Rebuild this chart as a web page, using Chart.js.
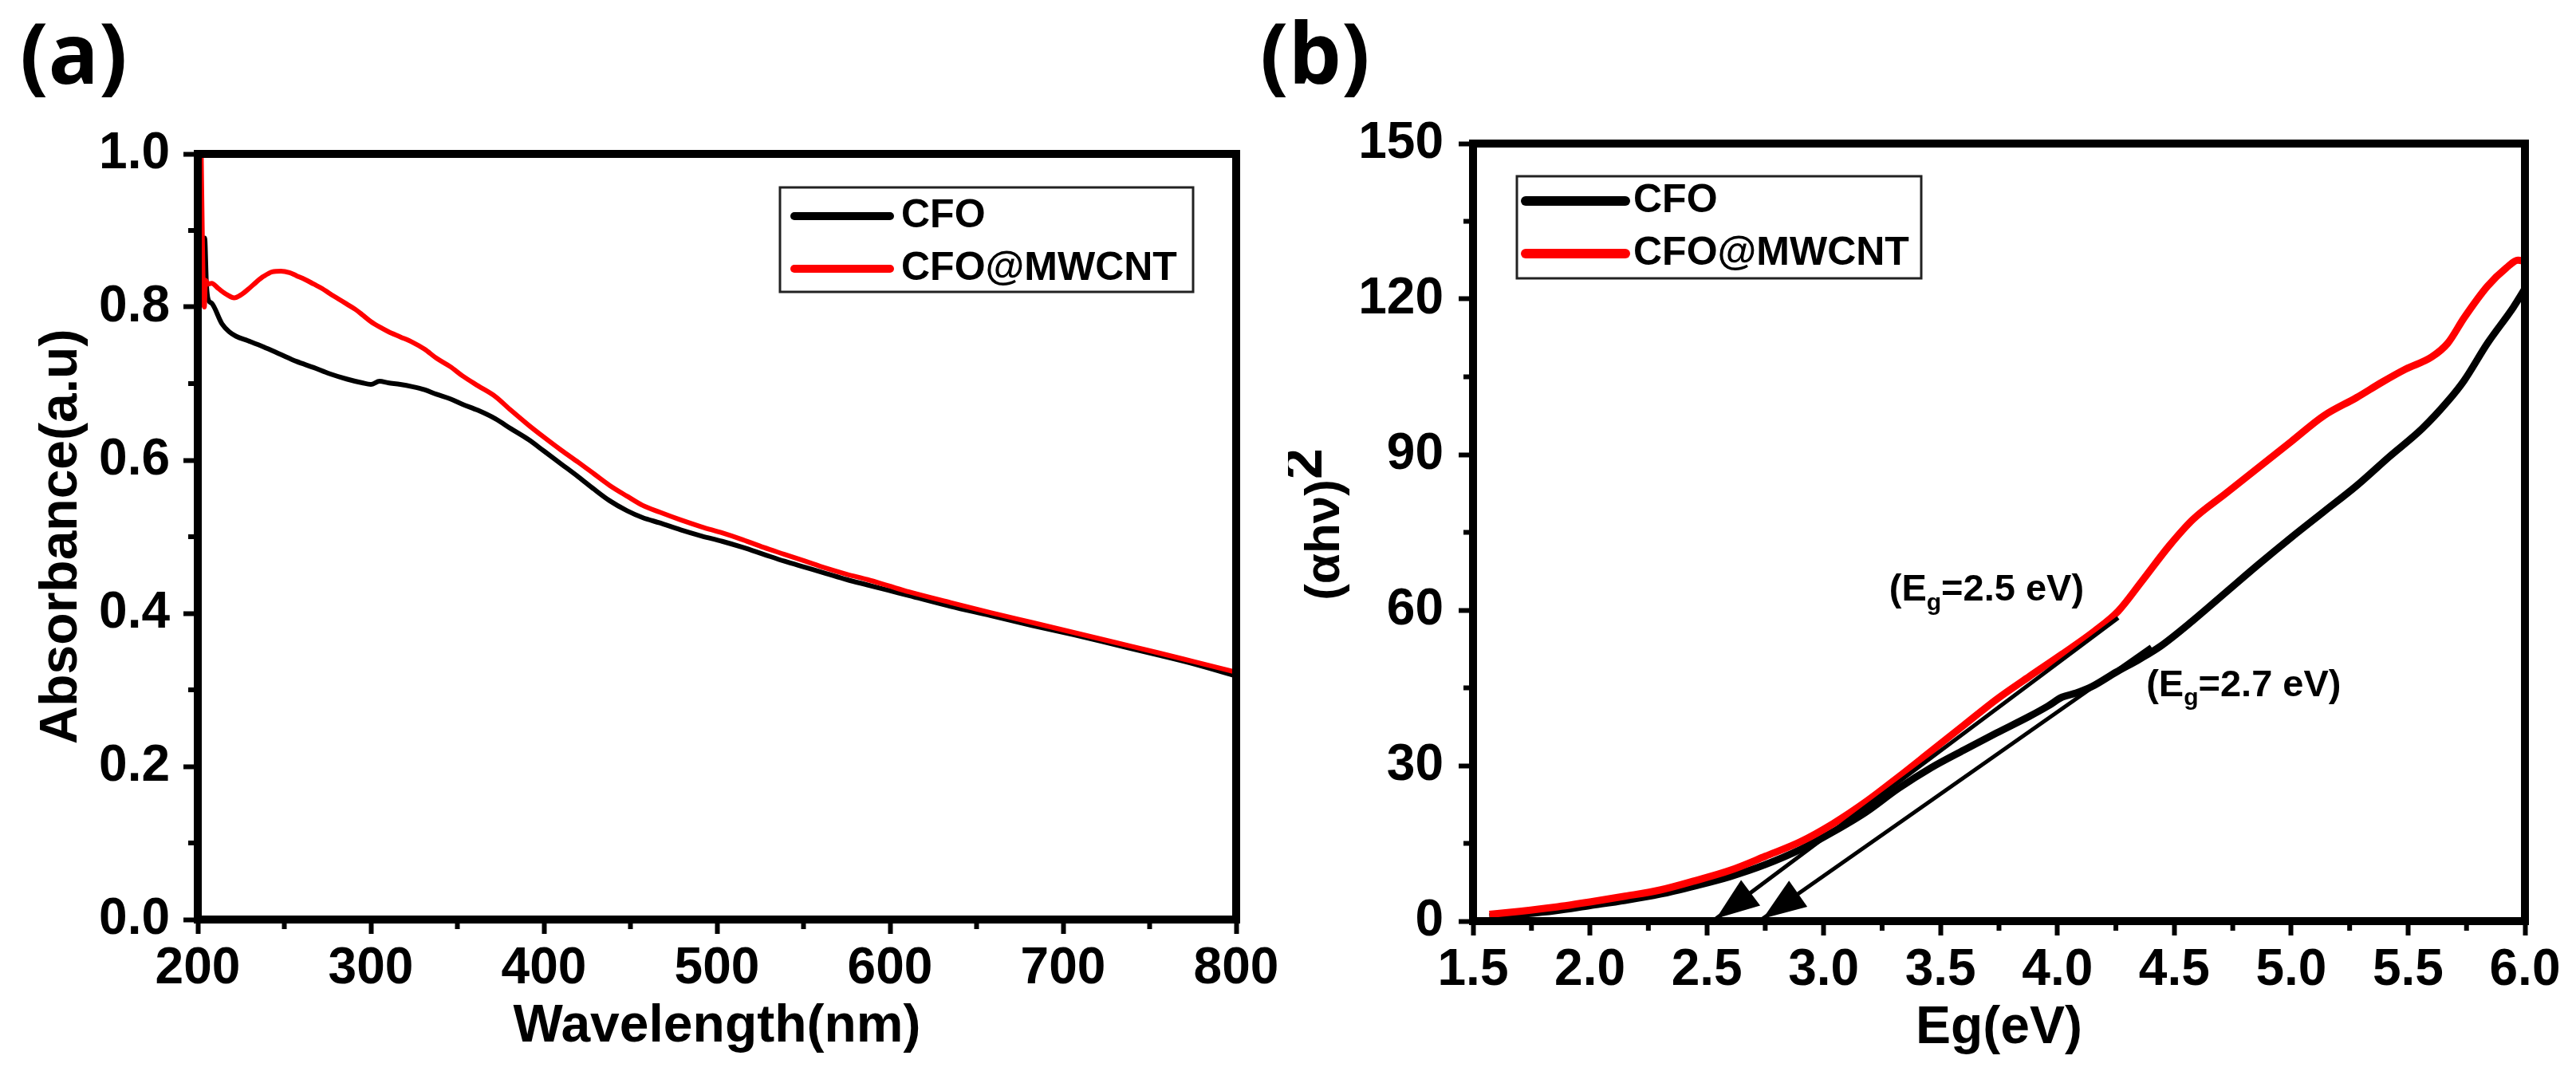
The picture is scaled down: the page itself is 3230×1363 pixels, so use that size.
<!DOCTYPE html>
<html lang="en">
<head>
<meta charset="UTF-8">
<title>CFO / CFO@MWCNT absorbance and Tauc plot</title>
<script src="https://cdn.jsdelivr.net/npm/chart.js"></script>
<style>
  body { margin: 0; background: #fff; width: 3230px; height: 1363px; position: relative; overflow: hidden; }
  canvas { position: absolute; top: 0; }
  .panel { position: absolute; font-family: "Open Sans", sans-serif; font-weight: 700; font-size: 105px; line-height: 105px; color: #000; }
</style>
</head>
<body>
<div class="panel" style="left:25px; top:12px">(a)</div>
<div class="panel" style="left:1580px; top:12px">(b)</div>
<canvas id="chartA" width="1615" height="1363" style="left:0"></canvas>
<canvas id="chartB" width="1615" height="1363" style="left:1615px"></canvas>
<script>
// ---- panel (a): absorbance vs wavelength ----
const wlCFO = [202, 203, 204, 205, 206, 208, 214, 218, 222, 229, 238, 248, 257, 267, 276, 286, 295, 300, 305, 310, 317,
  324, 331, 338, 346, 353, 362, 372, 381, 391, 400, 410, 420, 429, 438, 448, 457, 467, 479, 491, 503,
  515, 527, 539, 551, 563, 575, 587, 599, 611, 635, 658, 682, 706, 730, 754, 777, 800];
const absCFO = [0.80, 0.82, 0.89, 0.83, 0.81, 0.805, 0.778, 0.768, 0.762, 0.756, 0.748, 0.738, 0.729, 0.721, 0.713, 0.706, 0.701, 0.699, 0.703, 0.701, 0.699,
  0.696, 0.692, 0.686, 0.680, 0.673, 0.665, 0.654, 0.641, 0.627, 0.612, 0.595, 0.578, 0.562, 0.547, 0.534, 0.525, 0.518, 0.509, 0.501, 0.494,
  0.486, 0.477, 0.468, 0.460, 0.452, 0.444, 0.437, 0.430, 0.423, 0.409, 0.397, 0.384, 0.372, 0.359, 0.346, 0.333, 0.318];
const wlMW = [202, 202.6, 203.2, 203.8, 204.5, 206, 208, 212, 217, 221, 225, 229, 234, 238, 243, 248, 253, 257, 262, 267,
  272, 276, 281, 286, 291, 295, 300, 305, 310, 317, 324, 331, 338, 346, 353, 362, 372, 381, 391, 400,
  410, 420, 429, 438, 448, 457, 467, 479, 491, 503, 515, 527, 539, 551, 563, 575, 587, 599, 611, 635,
  658, 682, 706, 730, 754, 777, 800];
const absMW = [1.0, 0.90, 0.82, 0.80, 0.835, 0.83, 0.831, 0.824, 0.816, 0.812, 0.816, 0.823, 0.833, 0.840, 0.846, 0.847, 0.845, 0.841, 0.836, 0.830,
  0.824, 0.818, 0.811, 0.804, 0.797, 0.790, 0.781, 0.774, 0.768, 0.761, 0.754, 0.745, 0.733, 0.722, 0.710, 0.697, 0.683, 0.665, 0.646, 0.630,
  0.613, 0.597, 0.582, 0.567, 0.553, 0.541, 0.532, 0.522, 0.513, 0.505, 0.496, 0.486, 0.477, 0.468, 0.459, 0.451, 0.444, 0.436, 0.428, 0.414,
  0.401, 0.388, 0.375, 0.362, 0.349, 0.336, 0.323];
const ticksWl = [200, 300, 400, 500, 600, 700, 800];
const minorWl = [250, 350, 450, 550, 650, 750];
const ticksAbs = [0, 0.2, 0.4, 0.6, 0.8, 1.0];
const minorAbs = [0.1, 0.3, 0.5, 0.7, 0.9];

// ---- panel (b): Tauc plot ----
const egCFO = [1.57, 1.7, 1.85, 2.0, 2.15, 2.3, 2.45, 2.6, 2.75, 2.9, 3.04, 3.18, 3.32, 3.46, 3.6, 3.74, 3.88, 3.96, 4.02, 4.08,
  4.15, 4.25, 4.35, 4.44, 4.58, 4.72, 4.86, 5.0, 5.14, 5.28, 5.42, 5.56, 5.67, 5.74, 5.84, 5.95, 6.0];
const tcCFO = [0.8, 1.3, 2.0, 3.0, 4.0, 5.2, 6.8, 8.6, 10.9, 13.8, 17.2, 21.0, 25.6, 29.6, 33.0, 36.3, 39.5, 41.5, 43.2, 44.0,
  45.3, 48.0, 50.5, 53.0, 58.0, 63.4, 68.8, 74.0, 79.0, 84.0, 89.6, 95.0, 100.3, 104.3, 111.5, 118.4, 122.0];
const egMW = [1.57, 1.7, 1.85, 2.0, 2.15, 2.3, 2.45, 2.6, 2.75, 2.9, 3.04, 3.18, 3.32, 3.46, 3.6, 3.74, 3.88, 4.02, 4.16, 4.26,
  4.36, 4.48, 4.58, 4.72, 4.86, 5.0, 5.14, 5.28, 5.39, 5.49, 5.6, 5.67, 5.74, 5.84, 5.92, 5.97, 6.0];
const tcMW = [1.3, 1.9, 2.7, 3.7, 4.8, 6.0, 7.8, 9.8, 12.5, 15.3, 18.8, 23.0, 27.8, 32.8, 37.8, 42.8, 47.2, 51.5, 56.0, 59.8,
  65.5, 72.5, 77.5, 82.5, 87.5, 92.5, 97.5, 101.0, 104.0, 106.5, 108.8, 111.5, 116.4, 122.5, 126.0, 127.5, 127.3];
// tangent lines (arrow tip first)
const tanEg25 = [2.54, 4.26];
const tanTc25 = [0.5, 58.5];
const tanEg27 = [2.74, 4.4];
const tanTc27 = [0.5, 53.0];
const ticksEg = [1.5, 2.0, 2.5, 3.0, 3.5, 4.0, 4.5, 5.0, 5.5, 6.0];
const minorEg = [1.75, 2.25, 2.75, 3.25, 3.75, 4.25, 4.75, 5.25, 5.75];
const ticksTc = [0, 30, 60, 90, 120, 150];
const minorTc = [15, 45, 75, 105, 135];

const FONT = '"Liberation Sans", Arial, sans-serif';

function pts(xs, ys) {
  return xs.map((v, i) => ({ x: v, y: ys[i] }));
}

// frame, minor ticks, legend, arrowheads and notes
const decor = {
  id: 'decor',
  afterDatasetsDraw(chart, args, opts) {
    const { ctx, chartArea: a } = chart;
    const x = chart.scales.x, y = chart.scales.y;
    ctx.save();

    chart.data.datasets.forEach(ds => {
      if (!ds.arrow) return;
      const x0 = x.getPixelForValue(ds.data[0].x), y0 = y.getPixelForValue(ds.data[0].y);
      const x1 = x.getPixelForValue(ds.data[1].x), y1 = y.getPixelForValue(ds.data[1].y);
      const ang = Math.atan2(y0 - y1, x0 - x1);
      const L = 54, W = 20;
      const c = Math.cos(ang), s = Math.sin(ang);
      ctx.beginPath();
      ctx.moveTo(x0, y0);
      ctx.lineTo(x0 - L * c + W * s, y0 - L * s - W * c);
      ctx.lineTo(x0 - L * c - W * s, y0 - L * s + W * c);
      ctx.closePath();
      ctx.fillStyle = '#000';
      ctx.fill();
    });

    ctx.strokeStyle = '#000';
    ctx.lineWidth = 10;
    ctx.strokeRect(a.left, a.top, a.right - a.left, a.bottom - a.top);

    ctx.lineWidth = 6;
    opts.minorX.forEach(v => {
      const px = x.getPixelForValue(v);
      ctx.beginPath(); ctx.moveTo(px, a.bottom); ctx.lineTo(px, a.bottom + 12); ctx.stroke();
    });
    opts.minorY.forEach(v => {
      const py = y.getPixelForValue(v);
      ctx.beginPath(); ctx.moveTo(a.left, py); ctx.lineTo(a.left - 12, py); ctx.stroke();
    });

    const lg = opts.legend;
    const bx = a.left + lg.dx, by = a.top + lg.dy;
    ctx.lineWidth = 3;
    ctx.strokeStyle = '#222';
    ctx.strokeRect(bx, by, lg.w, lg.h);
    ctx.font = 'bold ' + lg.size + 'px ' + FONT;
    ctx.textBaseline = 'middle';
    ctx.textAlign = 'left';
    chart.data.datasets.filter(d => d.inLegend).forEach((d, i) => {
      const ry = by + lg.row0 + i * lg.gap;
      ctx.strokeStyle = d.borderColor;
      ctx.lineWidth = lg.lw;
      ctx.lineCap = 'round';
      ctx.beginPath(); ctx.moveTo(bx + lg.lx0, ry); ctx.lineTo(bx + lg.lx1, ry); ctx.stroke();
      ctx.fillStyle = '#000';
      ctx.fillText(d.label, bx + lg.tx, ry);
    });

    (opts.notes || []).forEach(n => {
      let px = x.getPixelForValue(n.x);
      const py = y.getPixelForValue(n.y);
      ctx.fillStyle = '#000';
      ctx.font = 'bold 47px ' + FONT;
      ctx.fillText('(E', px, py);
      px += ctx.measureText('(E').width;
      ctx.font = 'bold 30px ' + FONT;
      ctx.fillText('g', px, py + 16);
      px += ctx.measureText('g').width;
      ctx.font = 'bold 47px ' + FONT;
      ctx.fillText('=' + n.text + ')', px, py);
    });

    // rotated y title with a raised full-size "2"
    if (opts.yTitle) {
      const t = opts.yTitle;
      ctx.font = 'bold 62px ' + FONT;
      const w1 = ctx.measureText(t.main).width;
      ctx.font = 'bold 70px ' + FONT;
      const w2 = ctx.measureText(t.sup).width;
      const cy = (a.top + a.bottom) / 2 - 10;
      ctx.translate(t.baseX, cy + (w1 + w2) / 2);
      ctx.rotate(-Math.PI / 2);
      ctx.textBaseline = 'alphabetic';
      ctx.fillStyle = '#000';
      ctx.font = 'bold 62px ' + FONT;
      ctx.fillText(t.main, 0, 0);
      ctx.font = 'bold 70px ' + FONT;
      ctx.fillText(t.sup, w1, -22);
    }
    ctx.restore();
  }
};

function axis(opts) {
  return {
    type: 'linear',
    min: opts.min,
    max: opts.max,
    afterBuildTicks: s => { s.ticks = opts.ticks.map(v => ({ value: v })); },
    afterFit: s => { if (opts.width) s.width = opts.width; if (opts.height) s.height = opts.height; },
    border: { display: false },
    grid: { drawOnChartArea: false, drawTicks: true, tickLength: 18, tickWidth: 6, tickColor: '#000' },
    ticks: {
      color: '#000',
      padding: opts.pad,
      autoSkip: false,
      maxRotation: 0,
      font: { family: FONT, weight: 'bold', size: 64 },
      callback: v => opts.fmt(v)
    },
    title: {
      display: !!opts.title,
      text: opts.title || '',
      color: '#000',
      font: { family: FONT, weight: 'bold', size: 66 },
      padding: opts.titlePad
    }
  };
}

new Chart(document.getElementById('chartA'), {
  type: 'line',
  data: {
    datasets: [
      { label: 'CFO', data: pts(wlCFO, absCFO), borderColor: '#000', borderWidth: 6, pointRadius: 0,
        cubicInterpolationMode: 'monotone', inLegend: true, order: 2 },
      { label: 'CFO@MWCNT', data: pts(wlMW, absMW), borderColor: '#ff0000', borderWidth: 6, pointRadius: 0,
        cubicInterpolationMode: 'monotone', inLegend: true, order: 1 }
    ]
  },
  options: {
    responsive: false,
    devicePixelRatio: 1,
    animation: false,
    layout: { padding: { left: 0, top: 193, right: 65, bottom: 0 } },
    plugins: {
      legend: { display: false },
      tooltip: { enabled: false },
      decor: {
        minorX: minorWl,
        minorY: minorAbs,
        legend: { dx: 730, dy: 42, w: 518, h: 131, row0: 36, gap: 66, lx0: 18, lx1: 138, tx: 152, size: 50, lw: 10 }
      }
    },
    scales: {
      x: axis({ min: 200, max: 800, ticks: ticksWl, height: 210, pad: 6, fmt: v => String(v),
        title: 'Wavelength(nm)', titlePad: { top: 0, bottom: 36 } }),
      y: axis({ min: 0, max: 1, ticks: ticksAbs, width: 248, pad: 17, fmt: v => Number(v).toFixed(1),
        title: 'Absorbance(a.u)', titlePad: { top: 38, bottom: 0 } })
    }
  },
  plugins: [decor]
});

new Chart(document.getElementById('chartB'), {
  type: 'line',
  data: {
    datasets: [
      { label: 'CFO', data: pts(egCFO, tcCFO), borderColor: '#000', borderWidth: 9, pointRadius: 0,
        cubicInterpolationMode: 'monotone', inLegend: true, order: 3 },
      { label: 'CFO@MWCNT', data: pts(egMW, tcMW), borderColor: '#ff0000', borderWidth: 9, pointRadius: 0,
        cubicInterpolationMode: 'monotone', inLegend: true, order: 2 },
      { label: 'tangent 2.5', data: pts(tanEg25, tanTc25), borderColor: '#000', borderWidth: 5, pointRadius: 0,
        arrow: true, order: 1 },
      { label: 'tangent 2.7', data: pts(tanEg27, tanTc27), borderColor: '#000', borderWidth: 5, pointRadius: 0,
        arrow: true, order: 1 }
    ]
  },
  options: {
    responsive: false,
    devicePixelRatio: 1,
    animation: false,
    layout: { padding: { left: 0, top: 180, right: 64, bottom: 0 } },
    plugins: {
      legend: { display: false },
      tooltip: { enabled: false },
      decor: {
        minorX: minorEg,
        minorY: minorTc,
        legend: { dx: 55, dy: 41, w: 507, h: 128, row0: 31, gap: 66, lx0: 11, lx1: 136, tx: 146, size: 50, lw: 12 },
        notes: [
          { x: 3.28, y: 63.8, text: '2.5 eV' },
          { x: 4.38, y: 45.4, text: '2.7 eV' }
        ],
        yTitle: { main: '(αhν)', sup: '2', baseX: 64 }
      }
    },
    scales: {
      x: axis({ min: 1.5, max: 6.0, ticks: ticksEg, height: 208, pad: 6, fmt: v => Number(v).toFixed(1),
        title: 'Eg(eV)', titlePad: { top: 0, bottom: 34 } }),
      y: axis({ min: 0, max: 150, ticks: ticksTc, width: 232, pad: 19, fmt: v => String(v) })
    }
  },
  plugins: [decor]
});
</script>
</body>
</html>
